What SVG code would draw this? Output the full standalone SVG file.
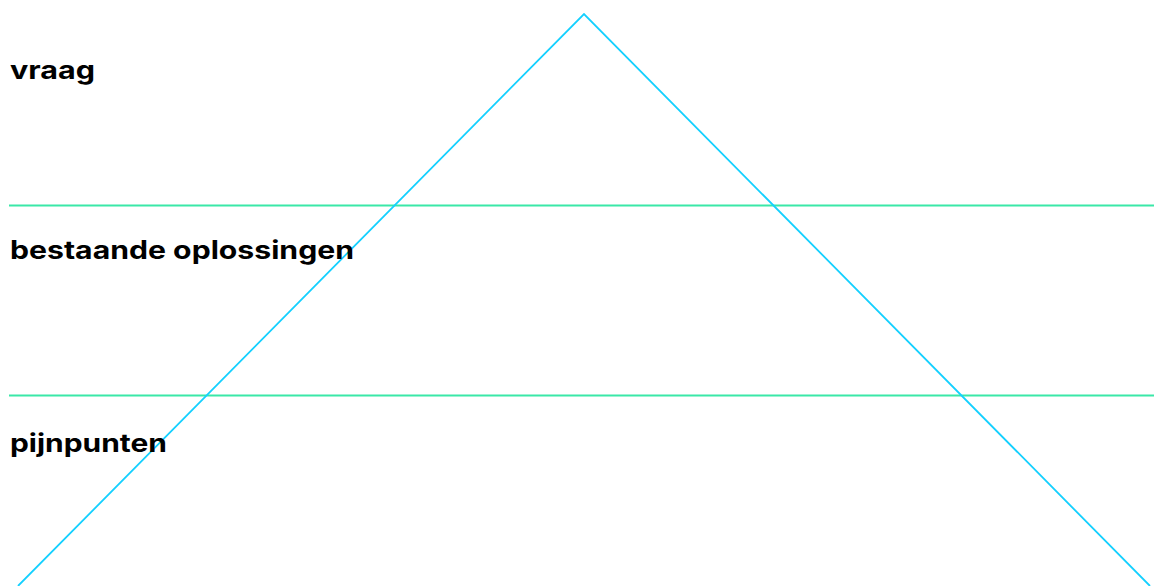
<svg xmlns="http://www.w3.org/2000/svg" width="1154" height="586" viewBox="0 0 1154 586">
<style>
.lbl{font-family:"Inter","Lato","Liberation Sans",sans-serif;font-weight:700;font-size:25px;fill:#000}
.band{stroke:#3ae8a8;stroke-width:1.8;fill:none}
.tri{stroke:#14d0ff;stroke-width:1.8;fill:none}
</style>
<rect width="1154" height="586" fill="#fff"/>
<g id="connectors">
<line class="band" x1="9" y1="205.5" x2="1154" y2="205.5"/>
<line class="band" x1="9" y1="395.5" x2="1154" y2="395.5"/>
<polyline id="triangle" class="tri" points="18,586 584,14 1150,586"/>
</g>
<g id="vraag"><text class="lbl" x="10" y="79" textLength="85" lengthAdjust="spacingAndGlyphs">vraag</text></g>
<g id="bestaande-oplossingen"><text class="lbl" x="10" y="259" textLength="344" lengthAdjust="spacingAndGlyphs">bestaande oplossingen</text></g>
<g id="pijnpunten"><text class="lbl" x="10" y="452" textLength="157" lengthAdjust="spacingAndGlyphs">pijnpunten</text></g>
</svg>
